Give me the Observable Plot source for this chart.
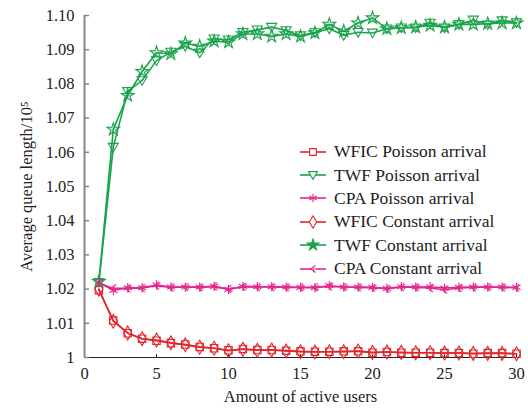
<!DOCTYPE html>
<html>
<head>
<meta charset="utf-8">
<script src="https://cdn.jsdelivr.net/npm/d3@7"></script>
<script src="https://cdn.jsdelivr.net/npm/@observablehq/plot@0.6"></script>
<style>
  html, body { margin: 0; padding: 0; background: #fff; font-family: 'Liberation Serif', 'Times New Roman', serif; }
  #wrap { position: relative; width: 528px; height: 412px; }
  #legend { position: absolute; left: 298px; top: 140px; }
  .row { display: flex; align-items: center; height: 23.4px; font-size: 17.5px; color: #222; }
  .row svg { margin-right: 6px; }
</style>
</head>
<body>
<div id="wrap"><div id="legend"></div></div>
<script>
const users = [1,2,3,4,5,6,7,8,9,10,11,12,13,14,15,16,17,18,19,20,21,22,23,24,25,26,27,28,29,30];
const wficPoisson = [1.0197,1.0108,1.0071,1.0055,1.0049,1.0042,1.0038,1.0031,1.0027,1.0021,1.0025,1.0022,1.0022,1.0020,1.0018,1.0017,1.0017,1.0018,1.0018,1.0014,1.0016,1.0014,1.0014,1.0014,1.0013,1.0013,1.0011,1.0013,1.0013,1.0011];
const twfPoisson = [1.0220,1.0615,1.0778,1.0810,1.0868,1.0893,1.0910,1.0891,1.0932,1.0929,1.0951,1.0958,1.0966,1.0956,1.0941,1.0950,1.0961,1.0942,1.0951,1.0949,1.0961,1.0964,1.0964,1.0978,1.0964,1.0974,1.0987,1.0973,1.0985,1.0979];
const cpaPoisson = [1.0220,1.0196,1.0204,1.0204,1.0212,1.0206,1.0206,1.0206,1.0208,1.0199,1.0208,1.0207,1.0207,1.0206,1.0205,1.0204,1.0210,1.0206,1.0206,1.0205,1.0202,1.0207,1.0206,1.0207,1.0203,1.0205,1.0206,1.0206,1.0206,1.0205];
const wficConstant = [1.0200,1.0106,1.0072,1.0055,1.0051,1.0043,1.0037,1.0030,1.0027,1.0020,1.0024,1.0021,1.0022,1.0019,1.0017,1.0016,1.0017,1.0017,1.0019,1.0015,1.0016,1.0015,1.0014,1.0014,1.0013,1.0013,1.0012,1.0012,1.0012,1.0011];
const twfConstant = [1.0222,1.0667,1.0766,1.0836,1.0891,1.0888,1.0919,1.0910,1.0925,1.0922,1.0946,1.0946,1.0939,1.0946,1.0939,1.0949,1.0974,1.0954,1.0978,1.0993,1.0961,1.0964,1.0966,1.0971,1.0966,1.0974,1.0974,1.0976,1.0978,1.0978];
const cpaConstant = [1.0218,1.0202,1.0202,1.0203,1.0210,1.0205,1.0206,1.0205,1.0208,1.0200,1.0207,1.0206,1.0206,1.0205,1.0205,1.0205,1.0208,1.0206,1.0205,1.0204,1.0201,1.0206,1.0205,1.0203,1.0198,1.0203,1.0205,1.0206,1.0205,1.0204];
const seriesNames = ["WFIC Poisson arrival","TWF Poisson arrival","CPA Poisson arrival","WFIC Constant arrival","TWF Constant arrival","CPA Constant arrival"];
const seriesValues = [wficPoisson, twfPoisson, cpaPoisson, wficConstant, twfConstant, cpaConstant];
const yTicks = [1,1.01,1.02,1.03,1.04,1.05,1.06,1.07,1.08,1.09,1.10];
const xTicks = [0,5,10,15,20,25,30];

const FONT = "'Liberation Serif', 'Times New Roman', serif";
const RED = "#e3262b", GREEN = "#1ba34b", MAGENTA = "#e2288e";
const colors = [RED, GREEN, MAGENTA, RED, GREEN, MAGENTA];

const downTriangle = {draw(ctx, size) {
  const s = Math.sqrt(size) * 0.62;
  ctx.moveTo(-s, -s * 0.75); ctx.lineTo(s, -s * 0.75); ctx.lineTo(0, s * 0.95); ctx.closePath();
}};
const chevron = {draw(ctx, size) {
  const s = Math.sqrt(size) * 0.5;
  ctx.moveTo(s * 0.7, -s); ctx.lineTo(-s * 0.6, 0); ctx.lineTo(s * 0.7, s);
  ctx.moveTo(s * 0.2, -s * 0.3); ctx.lineTo(s * 0.2, s * 0.9);
}};
const symbols = ["square", downTriangle, "asterisk", "diamond", "star", chevron];
const fills = ["none", "none", "none", "none", "rgba(27,163,75,0.2)", "none"];
const radii = [4.2, 4.6, 4.4, 4.2, 4.0, 4.4];

const tables = seriesValues.map((vals, i) => users.map((u, j) => ({x: u, y: vals[j], s: seriesNames[i]})));

const marks = [
  Plot.ruleX([0], {stroke: "#888", strokeWidth: 2}),
  Plot.ruleY([1], {stroke: "#222", strokeWidth: 1.2, x1: 0, x2: 30.3}),
  Plot.axisY({ticks: yTicks, tickSize: 0, tickPadding: 10, tickFormat: d => d === 1 ? "1" : d.toFixed(2), fontSize: 16.5, fontFamily: FONT, label: "Average queue length/10⁵", labelAnchor: "center", labelOffset: 64, labelArrow: "none"}),
  Plot.ruleY(yTicks, {y: d => d, x1: 0, x2: 0.35, stroke: "#888", strokeWidth: 1.5}),
  Plot.axisX({ticks: xTicks, tickSize: 0, tickPadding: 10, fontSize: 16.5, fontFamily: FONT, label: "Amount of active users", labelAnchor: "center", labelOffset: 44, labelArrow: "none"}),
  Plot.ruleX(xTicks.slice(1), {x: d => d, y1: 1, y2: 1.0008, stroke: "#222", strokeWidth: 1})
];
tables.forEach((t, i) => {
  marks.push(Plot.line(t, {x: "x", y: "y", stroke: colors[i], strokeWidth: 1.6}));
});
tables.forEach((t, i) => {
  marks.push(Plot.dot(t, {x: "x", y: "y", stroke: colors[i], symbol: symbols[i], r: radii[i], fill: fills[i], strokeWidth: 1.1}));
});

const chart = Plot.plot({
  width: 528, height: 412,
  marginTop: 15, marginBottom: 55, marginLeft: 84, marginRight: 12,
  style: {fontFamily: FONT, fontSize: "16.5px", color: "#222", background: "white"},
  x: {domain: [0, 30]},
  y: {domain: [1, 1.10]},
  marks
});
const wrap = document.getElementById("wrap");
wrap.insertBefore(chart, wrap.firstChild);

// legend
const legend = d3.select("#legend");
seriesNames.forEach((name, i) => {
  const row = legend.append("div").attr("class", "row");
  const svg = row.append("svg").attr("width", 30).attr("height", 16);
  svg.append("line").attr("x1", 2).attr("x2", 28).attr("y1", 8).attr("y2", 8).attr("stroke", colors[i]).attr("stroke-width", 1.6);
  const sym = typeof symbols[i] === "string" ? {square: d3.symbolSquare, asterisk: d3.symbolAsterisk, diamond: d3.symbolDiamond, star: d3.symbolStar}[symbols[i]] : symbols[i];
  svg.append("path").attr("transform", "translate(15,8)").attr("d", d3.symbol(sym, radii[i] * radii[i] * Math.PI * 0.8)())
    .attr("stroke", colors[i]).attr("fill", i === 4 ? colors[i] : "white").attr("stroke-width", 1.1);
  row.append("span").text(name);
});
</script>
</body>
</html>
